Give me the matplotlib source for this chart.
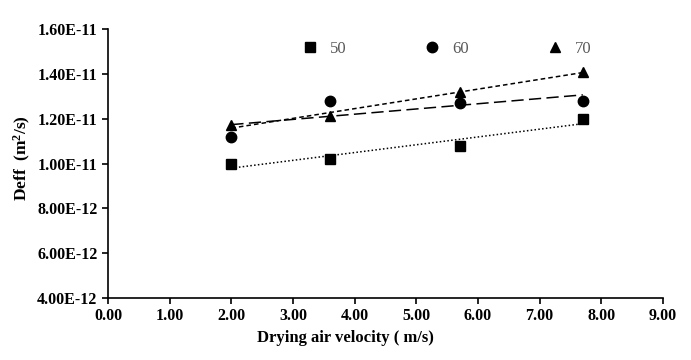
import matplotlib
matplotlib.use('Agg')
import matplotlib.pyplot as plt
import numpy as np

velocity = [2.0, 3.6, 5.7, 7.7]
deff_50 = [1.00e-11, 1.02e-11, 1.08e-11, 1.20e-11]
deff_60 = [1.12e-11, 1.28e-11, 1.27e-11, 1.28e-11]
deff_70 = [1.17e-11, 1.21e-11, 1.32e-11, 1.41e-11]
labels = ['50', '60', '70']

plt.rcParams['font.family'] = ['Liberation Serif', 'DejaVu Serif']
plt.rcParams['mathtext.fontset'] = 'custom'
plt.rcParams['mathtext.bf'] = 'Liberation Serif:bold'
plt.rcParams['mathtext.rm'] = 'Liberation Serif'

fig = plt.figure(figsize=(6.91, 3.6), dpi=100)
ax = fig.add_axes([0.1563, 0.1722, 0.8032, 0.7472])

markers = ['s', 'o', '^']
styles = [(0, (1, 1.5)), (0, (8, 3.5)), (0, (3, 2))]
handles = []
for vals, m, ls, lab in zip([deff_50, deff_60, deff_70], markers, styles, labels):
    h, = ax.plot(velocity, vals, linestyle='none', marker=m, color='black',
                 markersize=7.5, label=lab)
    handles.append(h)
    # linear trend line
    k, b = np.polyfit(velocity, vals, 1)
    xs = np.array([velocity[0], velocity[-1]])
    ax.plot(xs, k * xs + b, color='black', linestyle=ls, linewidth=1.1)

ax.set_xlim(0, 9)
ax.set_ylim(4e-12, 1.6e-11)
ax.set_xticks(np.arange(0, 10, 1))
ax.set_yticks(np.arange(4e-12, 1.61e-11, 2e-12))
ax.set_xticklabels(['%.2f' % v for v in np.arange(0, 10, 1)])
ax.set_yticklabels(['%.2E' % v for v in np.arange(4e-12, 1.61e-11, 2e-12)])
for t in ax.get_xticklabels() + ax.get_yticklabels():
    t.set_fontweight('bold')
    t.set_fontsize(11.5)

ax.spines['top'].set_visible(False)
ax.spines['right'].set_visible(False)
ax.spines['left'].set_linewidth(1.2)
ax.spines['bottom'].set_linewidth(1.2)
ax.tick_params(direction='out', length=4, width=1.2)

ax.set_xlabel('Drying air velocity ( m/s)', fontsize=12, fontweight='bold', labelpad=4)
ax.set_ylabel('Deff  (m$\\mathbf{^2}$/s)', fontsize=12.5, fontweight='bold', labelpad=3)
ax.xaxis.label.set_x(0.427)
ax.yaxis.label.set_y(0.522)

leg = ax.legend(handles=handles, ncol=3, loc='center', bbox_to_anchor=(0.61, 0.925),
                frameon=False, columnspacing=4.66, handletextpad=0.7, fontsize=12,
                handlelength=1.0)
for t in leg.get_texts():
    t.set_color('#595959')

fig.savefig('out.png', dpi=100)
